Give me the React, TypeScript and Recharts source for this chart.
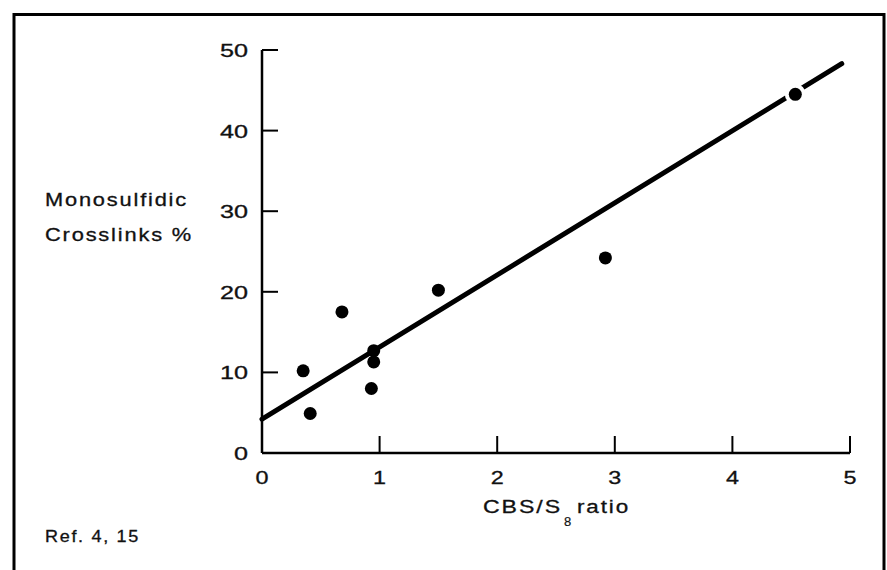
import React from 'react';
import { ComposedChart, Scatter, XAxis, YAxis } from 'recharts';

// CBS/S8 ratio vs monosulfidic crosslinks %
const points = [
  { x: 0.35, y: 10.2 },
  { x: 0.41, y: 4.9 },
  { x: 0.68, y: 17.5 },
  { x: 0.93, y: 8.0 },
  { x: 0.95, y: 11.3 },
  { x: 0.95, y: 12.7 },
  { x: 1.5, y: 20.2 },
  { x: 2.92, y: 24.2 },
];
const haloPoints = [{ x: 4.535, y: 44.5 }];
const fitLine = [
  { x: 0, y: 4.2 },
  { x: 4.93, y: 48.3 },
];
const xTicks = [0, 1, 2, 3, 4, 5];
const yTicks = [0, 10, 20, 30, 40, 50];

const FONT = '"Liberation Sans", Arial, Helvetica, sans-serif';
const INK = '#111';

const YTick = (props: any) => {
  const { x, y, payload } = props;
  const s = String(payload.value);
  return (
    <g>
      {payload.value !== 0 && (
        <line x1={x} x2={x + 16} y1={y} y2={y} stroke="#000" strokeWidth={2} />
      )}
      <text
        x={x - 14}
        y={y + 7}
        textAnchor="end"
        fontFamily={FONT}
        fontSize={18}
        fill={INK}
        stroke={INK}
        strokeWidth={0.3}
        textLength={s.length * 14}
        lengthAdjust="spacingAndGlyphs"
      >
        {s}
      </text>
    </g>
  );
};

const XTick = (props: any) => {
  const { x, y, payload } = props;
  const s = String(payload.value);
  return (
    <g>
      {payload.value !== 0 && (
        <line x1={x} x2={x} y1={y} y2={y - 17} stroke="#000" strokeWidth={2} />
      )}
      <text
        x={x}
        y={y + 31}
        textAnchor="middle"
        fontFamily={FONT}
        fontSize={18}
        fill={INK}
        stroke={INK}
        strokeWidth={0.3}
        textLength={s.length * 13}
        lengthAdjust="spacingAndGlyphs"
      >
        {s}
      </text>
    </g>
  );
};

const Dot = (p: any) => <circle cx={p.cx} cy={p.cy} r={6.5} fill="#000" />;
const HaloDot = (p: any) => (
  <g>
    <circle cx={p.cx} cy={p.cy} r={10.5} fill="#fff" />
    <circle cx={p.cx} cy={p.cy} r={6.5} fill="#000" />
  </g>
);
const NoShape = () => <g />;

const labelProps = {
  fontFamily: FONT,
  fill: INK,
  stroke: INK,
  strokeWidth: 0.3,
  letterSpacing: 1.5,
  lengthAdjust: 'spacingAndGlyphs',
};

export default function App() {
  return (
    <div style={{ position: 'absolute', left: 0, top: 0, width: 887, height: 570, background: '#fff' }}>
      <ComposedChart
        width={887}
        height={570}
        margin={{ top: 50, right: 37, left: 0, bottom: 0 }}
      >
        <XAxis
          dataKey="x"
          type="number"
          domain={[0, 5]}
          ticks={xTicks}
          height={117}
          tickSize={0}
          tickMargin={0}
          tickLine={false}
          tick={XTick}
          axisLine={{ stroke: '#000', strokeWidth: 2.5 }}
          interval={0}
        />
        <YAxis
          dataKey="y"
          type="number"
          domain={[0, 50]}
          ticks={yTicks}
          width={262}
          tickSize={0}
          tickMargin={0}
          tickLine={false}
          tick={YTick}
          axisLine={{ stroke: '#000', strokeWidth: 2.5 }}
          interval={0}
        />
        <Scatter
          data={fitLine}
          line={{ stroke: '#000', strokeWidth: 5, strokeLinecap: 'round' }}
          shape={NoShape}
          isAnimationActive={false}
        />
        <Scatter data={points} shape={Dot} isAnimationActive={false} />
        <Scatter data={haloPoints} shape={HaloDot} isAnimationActive={false} />
      </ComposedChart>
      <svg
        width={887}
        height={570}
        style={{ position: 'absolute', left: 0, top: 0, pointerEvents: 'none' }}
      >
        <path d="M 14 572 V 14.5 H 884 V 572" fill="none" stroke="#000" strokeWidth={3} />
        <g>
          <text x={45} y={206} fontSize={18} textLength={143} {...(labelProps as any)}>Monosulfidic</text>
          <text x={45} y={241} fontSize={18} textLength={148} {...(labelProps as any)}>Crosslinks %</text>
          <text x={483} y={513} fontSize={18} textLength={79} {...(labelProps as any)}>CBS/S</text>
          <text x={564} y={526} fontSize={13} fontFamily={FONT} fill={INK} stroke={INK} strokeWidth={0.2}>8</text>
          <text x={577} y={513} fontSize={18} textLength={53} {...(labelProps as any)}>ratio</text>
          <text x={45} y={542} fontSize={16} textLength={95} {...(labelProps as any)}>Ref. 4, 15</text>
        </g>
      </svg>
    </div>
  );
}
